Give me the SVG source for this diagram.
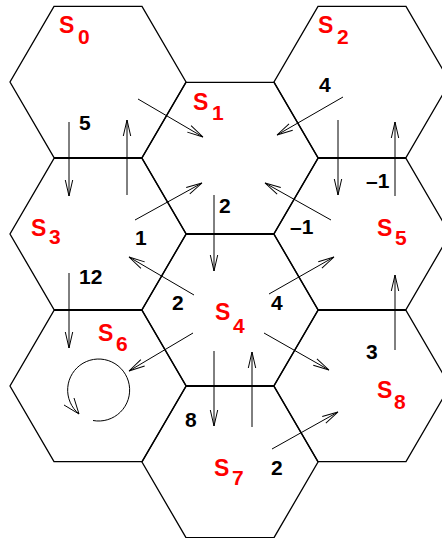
<svg xmlns="http://www.w3.org/2000/svg" xmlns:xlink="http://www.w3.org/1999/xlink" width="442" height="538" viewBox="0 0 442 538">
<style>
.hex{fill:none;stroke:#000;stroke-width:1.3}
.arr{fill:none;stroke:#000;stroke-width:1}
.s{font-family:"Liberation Sans",Arial,sans-serif;font-weight:bold;font-size:23px;fill:#ff0000}
.sub{font-family:"Liberation Sans",Arial,sans-serif;font-weight:bold;font-size:21px;fill:#ff0000}
.n{font-family:"Liberation Sans",Arial,sans-serif;font-weight:bold;font-size:21px;fill:#000}
</style>
<defs>
<polygon id="hx" points="-44,-75.7 44,-75.7 88,0 44,75.7 -44,75.7 -88,0"/>
<marker id="ah" markerUnits="userSpaceOnUse" markerWidth="20" markerHeight="10" viewBox="-17 -5 18 10" refX="0" refY="0" orient="auto" overflow="visible">
<path d="M-16,-3.7 L0,0 L-16,3.7" fill="none" stroke="#000" stroke-width="1"/>
</marker>
</defs>
<rect width="442" height="538" fill="#fff"/>
<g id="S0"><use xlink:href="#hx" x="98" y="82" class="hex"/><text class="s" x="59" y="33">S</text><text class="sub" x="78" y="44">0</text></g>
<g id="S1"><use xlink:href="#hx" x="230" y="158" class="hex"/><text class="s" x="193" y="110">S</text><text class="sub" x="212" y="120">1</text></g>
<g id="S2"><use xlink:href="#hx" x="362" y="82" class="hex"/><text class="s" x="318" y="33">S</text><text class="sub" x="337" y="44">2</text></g>
<g id="S3"><use xlink:href="#hx" x="98" y="234" class="hex"/><text class="s" x="31" y="236">S</text><text class="sub" x="49" y="244">3</text></g>
<g id="S4"><use xlink:href="#hx" x="230" y="310" class="hex"/><text class="s" x="215" y="320">S</text><text class="sub" x="233" y="333">4</text></g>
<g id="S5"><use xlink:href="#hx" x="362" y="234" class="hex"/><text class="s" x="377" y="236">S</text><text class="sub" x="395" y="245">5</text></g>
<g id="S6"><use xlink:href="#hx" x="98" y="386" class="hex"/><text class="s" x="98" y="341">S</text><text class="sub" x="116" y="351">6</text></g>
<g id="S7"><use xlink:href="#hx" x="230" y="462" class="hex"/><text class="s" x="214" y="476">S</text><text class="sub" x="232" y="485">7</text></g>
<g id="S8"><use xlink:href="#hx" x="362" y="386" class="hex"/><text class="s" x="377" y="398">S</text><text class="sub" x="394" y="409">8</text></g>
<g id="connectors" class="arr" marker-end="url(#ah)">
<line x1="138" y1="99" x2="203" y2="137"/>
<line x1="69" y1="122" x2="69" y2="196"/>
<line x1="127" y1="195" x2="127" y2="120"/>
<line x1="343" y1="97" x2="277" y2="135"/>
<line x1="338" y1="120" x2="338" y2="195"/>
<line x1="395" y1="196" x2="395" y2="122"/>
<line x1="135" y1="220" x2="202" y2="183"/>
<line x1="214" y1="195" x2="214" y2="271"/>
<line x1="331" y1="220" x2="265" y2="183"/>
<line x1="194" y1="295" x2="129" y2="257"/>
<line x1="269" y1="294" x2="334" y2="257"/>
<line x1="69" y1="273" x2="69" y2="348"/>
<line x1="193" y1="333" x2="129" y2="371"/>
<line x1="264" y1="333" x2="329" y2="370"/>
<line x1="395" y1="350" x2="395" y2="275"/>
<line x1="214" y1="351" x2="214" y2="426"/>
<line x1="252" y1="427" x2="252" y2="352"/>
<line x1="272" y1="449" x2="338" y2="412"/>
<path d="M93,420.5 A31,31 0 1 0 79,414" marker-end="none"/>
<path d="M64,405 L79,414 L74,398" marker-end="none"/>
</g>
<g id="labels">
<text class="n" x="79" y="130">5</text>
<text class="n" x="319" y="92">4</text>
<text class="n" x="219" y="213">2</text>
<text class="n" x="135" y="245">1</text>
<text class="n" x="366" y="188">–1</text>
<text class="n" x="290" y="234">–1</text>
<text class="n" x="79" y="284">12</text>
<text class="n" x="172" y="310">2</text>
<text class="n" x="271" y="310">4</text>
<text class="n" x="366" y="359">3</text>
<text class="n" x="185" y="427">8</text>
<text class="n" x="271" y="475">2</text>
</g>
</svg>
